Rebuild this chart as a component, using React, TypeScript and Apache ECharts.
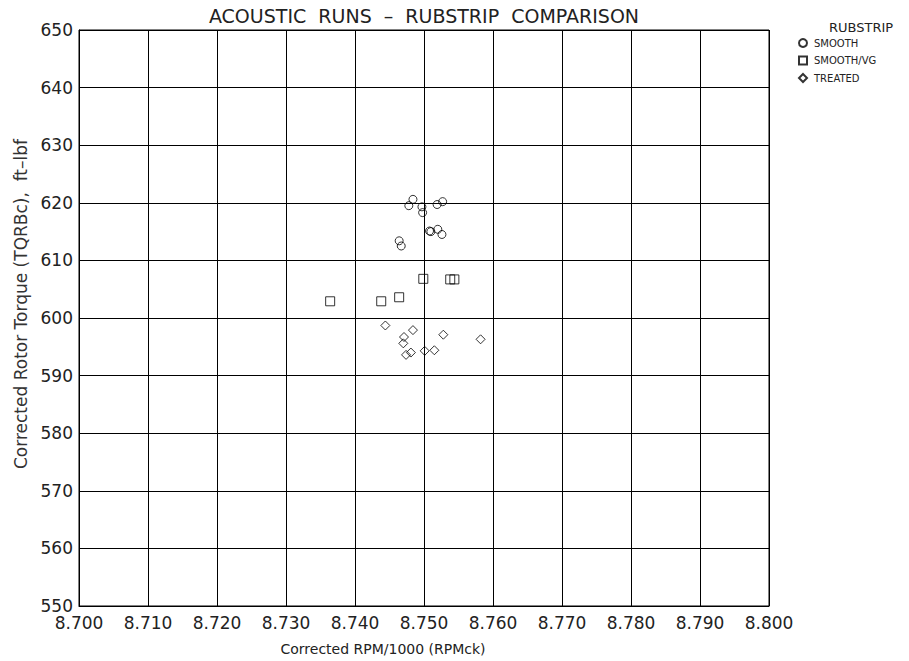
import React, { useEffect, useRef } from "react";
import * as echarts from "echarts";

const titleText = "ACOUSTIC  RUNS  \u2013  RUBSTRIP  COMPARISON";
const xAxisName = "Corrected RPM/1000 (RPMck)";
const yAxisName = "Corrected Rotor Torque (TQRBc),  ft\u2013lbf";
const legendTitle = "RUBSTRIP";

const seriesNames = ["SMOOTH", "SMOOTH/VG", "TREATED"];

// [RPM/1000, torque]
const smoothData: number[][] = [
  [8.7484, 620.6],
  [8.7478, 619.5],
  [8.7497, 619.3],
  [8.7498, 618.3],
  [8.7519, 619.7],
  [8.7527, 620.2],
  [8.7508, 615.1],
  [8.7510, 615.0],
  [8.7520, 615.4],
  [8.7526, 614.5],
  [8.7464, 613.4],
  [8.7467, 612.5],
];

const smoothVgData: number[][] = [
  [8.7499, 606.8],
  [8.7538, 606.7],
  [8.7544, 606.7],
  [8.7364, 602.9],
  [8.7438, 602.9],
  [8.7464, 603.6],
];

const treatedData: number[][] = [
  [8.7444, 598.7],
  [8.7484, 597.9],
  [8.7471, 596.7],
  [8.7470, 595.6],
  [8.7528, 597.1],
  [8.7582, 596.3],
  [8.7501, 594.3],
  [8.7515, 594.4],
  [8.7474, 593.6],
  [8.7481, 594.0],
];

const xMin = 8.7;
const xMax = 8.8;
const xInterval = 0.01;
const yMin = 550;
const yMax = 650;
const yInterval = 10;

const FONT = "DejaVu Sans";
const TEXT = "#222";

export default function App() {
  const ref = useRef<HTMLDivElement>(null);

  useEffect(() => {
    if (!ref.current) return;
    const chart = echarts.init(ref.current, undefined, { renderer: "svg" });
    const markerStyle = {
      color: "rgba(255,255,255,0)",
      borderColor: "#000",
      borderWidth: 1,
    };
    const option: any = {
      animation: false,
      backgroundColor: "#fff",
      graphic: [
        {
          type: "text",
          x: 424,
          y: 16,
          style: {
            text: titleText,
            align: "center",
            verticalAlign: "middle",
            fontFamily: FONT,
            fontSize: 19,
            fill: TEXT,
          },
        },
        {
          type: "text",
          x: 829,
          y: 27,
          style: {
            text: legendTitle,
            align: "left",
            verticalAlign: "middle",
            fontFamily: FONT,
            fontSize: 13,
            fill: TEXT,
          },
        },
      ],
      legend: {
        orient: "vertical",
        left: 793,
        top: 33,
        itemWidth: 8,
        itemHeight: 8,
        itemGap: 7.5,
        data: seriesNames,
        textStyle: { fontFamily: FONT, fontSize: 10, color: TEXT, padding: [0, 0, 0, 2] },
      },
      grid: {
        left: 79,
        right: 140,
        top: 30,
        bottom: 54,
        show: true,
        borderColor: "#000",
        borderWidth: 1,
        backgroundColor: "transparent",
      },
      xAxis: {
        type: "value",
        min: xMin,
        max: xMax,
        interval: xInterval,
        name: xAxisName,
        nameLocation: "middle",
        nameGap: 36,
        nameTextStyle: { fontFamily: FONT, fontSize: 14, color: TEXT, padding: [0, 82, 0, 0] },
        axisLine: { show: true, lineStyle: { color: "#000" } },
        axisTick: { show: false },
        axisLabel: {
          fontFamily: FONT,
          fontSize: 17,
          color: TEXT,
          margin: 8,
          formatter: (v: number) => v.toFixed(3),
        },
        splitLine: { show: true, lineStyle: { color: "#000", width: 1 } },
      },
      yAxis: {
        type: "value",
        min: yMin,
        max: yMax,
        interval: yInterval,
        name: yAxisName,
        nameLocation: "middle",
        nameGap: 50,
        nameRotate: 90,
        nameTextStyle: { fontFamily: FONT, fontSize: 17, color: "#333", padding: [0, 0, 0, 28] },
        axisLine: { show: true, lineStyle: { color: "#000" } },
        axisTick: { show: false },
        axisLabel: { fontFamily: FONT, fontSize: 17, color: TEXT, margin: 6 },
        splitLine: { show: true, lineStyle: { color: "#000", width: 1 } },
      },
      series: [
        {
          name: seriesNames[0],
          type: "scatter",
          symbol: "circle",
          symbolSize: 8,
          data: smoothData,
          itemStyle: markerStyle,
        },
        {
          name: seriesNames[1],
          type: "scatter",
          symbol: "rect",
          symbolSize: 9,
          data: smoothVgData,
          itemStyle: markerStyle,
        },
        {
          name: seriesNames[2],
          type: "scatter",
          symbol: "diamond",
          symbolSize: 9,
          data: treatedData,
          itemStyle: markerStyle,
        },
      ],
    };
    chart.setOption(option);
    return () => chart.dispose();
  }, []);

  return <div ref={ref} style={{ width: 909, height: 661, marginLeft: -8, marginTop: -8 }} />;
}
